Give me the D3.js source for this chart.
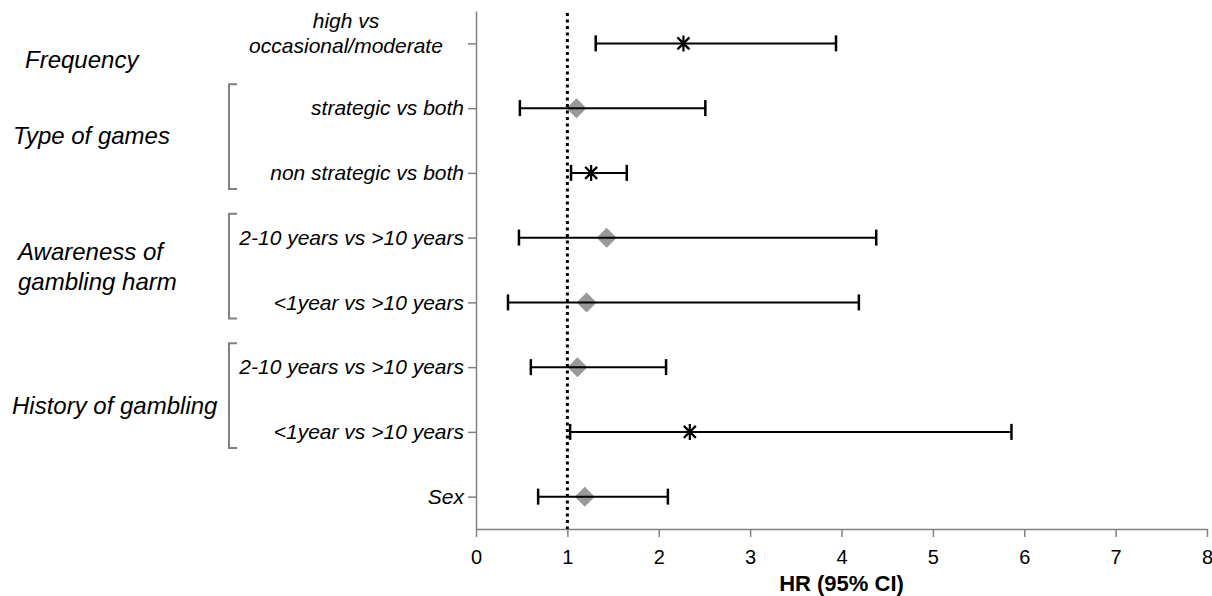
<!DOCTYPE html>
<html>
<head>
<meta charset="utf-8">
<script src="https://cdn.jsdelivr.net/npm/d3@7"></script>
<style>
  body { margin: 0; background: #fff; }
  svg { display: block; font-family: "Liberation Sans", Arial, sans-serif; }
</style>
</head>
<body>
<svg id="chart" width="1212" height="596"></svg>
<script>
// rows, top to bottom
const rowLabels = [
    ["high vs", "occasional/moderate"],
    ["strategic vs both"],
    ["non strategic vs both"],
    ["2-10 years vs >10 years"],
    ["<1year vs >10 years"],
    ["2-10 years vs >10 years"],
    ["<1year vs >10 years"],
    ["Sex"]
];
const hr    = [2.27, 1.10, 1.26, 1.43, 1.21, 1.11, 2.34, 1.19];
const lower = [1.31, 0.48, 1.04, 0.47, 0.35, 0.60, 1.03, 0.68];
const upper = [3.94, 2.51, 1.65, 4.38, 4.19, 2.08, 5.86, 2.10];
// significant results get an asterisk, the rest a grey diamond
const significant = [true, false, true, false, false, false, true, false];

const groupNames = [["Frequency"], ["Type of games"], ["Awareness of", "gambling harm"], ["History of gambling"]];
const groupRows = [[0], [1, 2], [3, 4], [5, 6]];
const xTicks = [0, 1, 2, 3, 4, 5, 6, 7, 8];
const refValue = 1;

const svg = d3.select('#chart');
const plotLeft = 476, plotRight = 1207, plotTop = 11, plotBottom = 529;
const axisGrey = '#808080';

const x = d3.scaleLinear().domain([0, 8]).range([plotLeft, plotRight]);
const y = d3.scaleLinear().domain([-0.5, rowLabels.length - 0.5]).range([plotTop, plotBottom]);
const rows = d3.range(rowLabels.length);

// x axis
const xAxis = svg.append('g')
    .attr('transform', `translate(0,${plotBottom})`)
    .call(d3.axisBottom(x).tickValues(xTicks).tickSize(8).tickSizeOuter(0).tickFormat(d3.format('d')));
xAxis.select('.domain').attr('stroke', axisGrey).attr('stroke-width', 1.5);
xAxis.selectAll('.tick line').attr('stroke', axisGrey).attr('stroke-width', 1.5);
xAxis.selectAll('.tick text')
    .attr('font-size', 20)
    .attr('fill', '#000')
    .attr('dy', '0.95em')
    .attr('y', 16);

// y axis (labels drawn by hand)
const yAxis = svg.append('g')
    .attr('transform', `translate(${plotLeft},0)`)
    .call(d3.axisLeft(y).tickValues(rows).tickSize(8).tickSizeOuter(0).tickFormat(() => ''));
yAxis.select('.domain').attr('stroke', axisGrey).attr('stroke-width', 1.5);
yAxis.selectAll('.tick line').attr('stroke', axisGrey).attr('stroke-width', 1.5);

// row labels
const labelG = svg.append('g')
    .attr('font-size', 21)
    .attr('font-style', 'italic')
    .attr('fill', '#000');
rows.forEach(i => {
    const lines = rowLabels[i];
    if (lines.length === 1) {
        labelG.append('text')
            .attr('x', plotLeft - 12)
            .attr('y', y(i))
            .attr('dy', '0.35em')
            .attr('text-anchor', 'end')
            .text(lines[0]);
    } else {
        lines.forEach((t, k) => {
            labelG.append('text')
                .attr('x', 346)
                .attr('y', y(i) - 15 + k * 25)
                .attr('text-anchor', 'middle')
                .text(t);
        });
    }
});

// group labels and brackets
const groupX = [25, 13, 18, 12];
const groupDy = [25, 3, -10, 14];
groupNames.forEach((lines, g) => {
    const r = groupRows[g];
    const mid = (y(r[0]) + y(r[r.length - 1])) / 2;
    lines.forEach((t, k) => {
        svg.append('text')
            .attr('x', groupX[g])
            .attr('y', mid + groupDy[g] + k * 30)
            .attr('font-size', 24)
            .attr('font-style', 'italic')
            .text(t);
    });
    if (r.length > 1) {
        const y0 = y(r[0]) - 24, y1 = y(r[r.length - 1]) + 16;
        svg.append('path')
            .attr('d', `M237,${y0}H229V${y1}H237`)
            .attr('fill', 'none')
            .attr('stroke', axisGrey)
            .attr('stroke-width', 2);
    }
});

// diamonds under the bars
svg.append('g').selectAll('path')
    .data(rows.filter(i => !significant[i]))
    .join('path')
    .attr('transform', i => `translate(${x(hr[i])},${y(i)})`)
    .attr('d', 'M0,-10L10,0L0,10L-10,0Z')
    .attr('fill', '#999999');

// confidence intervals
const bars = svg.append('g').attr('stroke', '#000').attr('stroke-width', 2);
rows.forEach(i => {
    bars.append('line')
        .attr('x1', x(lower[i])).attr('x2', x(upper[i]))
        .attr('y1', y(i)).attr('y2', y(i));
    [lower[i], upper[i]].forEach(v => {
        bars.append('line')
            .attr('x1', x(v)).attr('x2', x(v))
            .attr('y1', y(i) - 8).attr('y2', y(i) + 8)
            .attr('stroke-width', 2.5);
    });
});

// asterisks for significant rows
svg.append('g').selectAll('path')
    .data(rows.filter(i => significant[i]))
    .join('path')
    .attr('transform', i => `translate(${x(hr[i])},${y(i)})`)
    .attr('d', 'M0,-8V8M-6,-6L6,6M6,-6L-6,6')
    .attr('stroke', '#000')
    .attr('stroke-width', 2.2)
    .attr('fill', 'none');

// reference line at HR = 1
svg.append('line')
    .attr('x1', x(refValue)).attr('x2', x(refValue))
    .attr('y1', plotTop + 2).attr('y2', plotBottom)
    .attr('stroke', '#000')
    .attr('stroke-width', 3)
    .attr('stroke-dasharray', '3,3.5');

// axis title
svg.append('text')
    .attr('x', (plotLeft + plotRight) / 2)
    .attr('y', 591)
    .attr('text-anchor', 'middle')
    .attr('font-size', 22)
    .attr('font-weight', 'bold')
    .text('HR (95% CI)');
</script>
</body>
</html>
